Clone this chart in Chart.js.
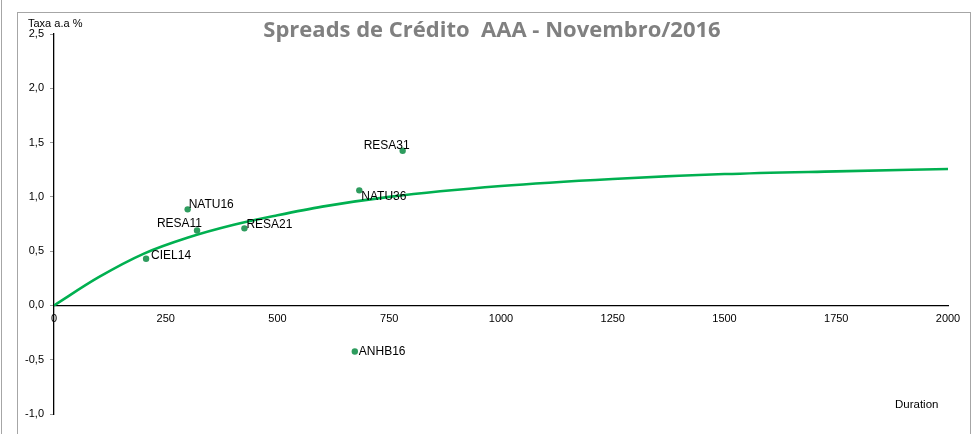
<!DOCTYPE html>
<html>
<head>
<meta charset="utf-8">
<script src="https://cdn.jsdelivr.net/npm/chart.js@4"></script>
<style>
  html, body { margin: 0; padding: 0; background: #fff; }
  .wrap { position: relative; width: 972px; height: 434px; overflow: hidden; }
  .edge { position: absolute; left: 1px; top: 0; width: 1px; height: 434px; background: #a6a6a6; }
  .frame { position: absolute; left: 17px; top: 12px; width: 952px; height: 440px; border: 1px solid #a6a6a6; }
  canvas { position: absolute; left: 0; top: 0; }
</style>
</head>
<body>
<div class="wrap">
  <div class="edge"></div>
  <div class="frame"></div>
  <canvas id="chart" width="972" height="434"></canvas>
</div>
<script>
// bonds: duration (days) x spread (% a.a.)
const tickers = ['CIEL14', 'NATU16', 'RESA11', 'RESA21', 'NATU36', 'ANHB16', 'RESA31'];
const durations = [206, 299, 320, 426, 683, 673, 780];
const spreads = [0.43, 0.885, 0.69, 0.71, 1.06, -0.425, 1.425];

// fitted AAA curve
const curveDuration = [0, 100, 200, 300, 400, 500, 600, 750, 1000, 1250, 1500, 1750, 2000];
const curveSpread = [0, 0.26, 0.475, 0.625, 0.74, 0.83, 0.91, 1.0, 1.1, 1.165, 1.21, 1.235, 1.256];

const xTicks = [0, 250, 500, 750, 1000, 1250, 1500, 1750, 2000];
const yTicks = [-1, -0.5, 0, 0.5, 1, 1.5, 2, 2.5];

const title = 'Spreads de Crédito  AAA - Novembro/2016';

// where each bond label sits relative to its point
const labelPos = [
  { dx: 5, dy: -3, align: 'left' },
  { dx: 1, dy: -5, align: 'left' },
  { dx: 5, dy: -7, align: 'right' },
  { dx: 2, dy: -4, align: 'left' },
  { dx: 2, dy: 6, align: 'left' },
  { dx: 4, dy: 0, align: 'left' },
  { dx: 7, dy: -5, align: 'right' }
];

const FONT = '"Liberation Sans", Arial, sans-serif';

const textPlugin = {
  id: 'chartText',
  afterDatasetsDraw(chart) {
    const ctx = chart.ctx;
    const meta = chart.getDatasetMeta(0);
    ctx.save();
    ctx.font = '12px ' + FONT;
    ctx.fillStyle = '#000';
    ctx.textBaseline = 'middle';
    meta.data.forEach((pt, i) => {
      const p = labelPos[i];
      ctx.textAlign = p.align;
      ctx.fillText(tickers[i], pt.x + p.dx, pt.y + p.dy);
    });

    ctx.textAlign = 'left';
    ctx.font = '11px ' + FONT;
    ctx.fillText('Taxa a.a %', 28, 24);
    ctx.font = '11.5px ' + FONT;
    ctx.fillText('Duration', 895, 405);

    ctx.font = 'bold 22px "Open Sans", sans-serif';
    ctx.fillStyle = '#808080';
    ctx.textAlign = 'center';
    ctx.textBaseline = 'alphabetic';
    ctx.fillText(title, 492, 37);
    ctx.restore();
  }
};

new Chart(document.getElementById('chart'), {
  type: 'scatter',
  data: {
    datasets: [
      {
        label: 'Debêntures',
        data: durations.map((d, i) => ({ x: d, y: spreads[i] })),
        backgroundColor: '#2e9c5e',
        borderColor: '#2e9c5e',
        pointRadius: 3.2,
        pointBorderWidth: 0
      },
      {
        label: 'Curva AAA',
        data: curveDuration.map((d, i) => ({ x: d, y: curveSpread[i] })),
        showLine: true,
        borderColor: '#00b050',
        borderWidth: 2.6,
        pointRadius: 0,
        cubicInterpolationMode: 'monotone'
      }
    ]
  },
  options: {
    responsive: false,
    animation: false,
    devicePixelRatio: 1,
    layout: { padding: { left: 0, right: 24, top: 34, bottom: 20 } },
    plugins: {
      legend: { display: false },
      tooltip: { enabled: false }
    },
    scales: {
      x: {
        type: 'linear',
        position: { y: 0 },
        min: 0,
        max: 2000,
        afterBuildTicks: axis => { axis.ticks = xTicks.map(v => ({ value: v })); },
        grid: { display: false, drawTicks: false },
        border: { display: true, color: '#000', width: 1.3 },
        ticks: {
          padding: 7,
          maxRotation: 0,
          color: '#000',
          font: { family: FONT, size: 11 },
          callback: v => String(v)
        }
      },
      y: {
        type: 'linear',
        position: 'left',
        min: -1,
        max: 2.5,
        afterFit: axis => { axis.width = 54; },
        afterBuildTicks: axis => { axis.ticks = yTicks.map(v => ({ value: v })); },
        grid: { drawOnChartArea: false, drawTicks: true, tickLength: 4, color: '#9a9a9a' },
        border: { display: true, color: '#000', width: 1.3 },
        ticks: {
          padding: 6,
          color: '#000',
          font: { family: FONT, size: 11 },
          callback: v => v.toFixed(1).replace('.', ',')
        }
      }
    }
  },
  plugins: [textPlugin]
});
</script>
</body>
</html>
